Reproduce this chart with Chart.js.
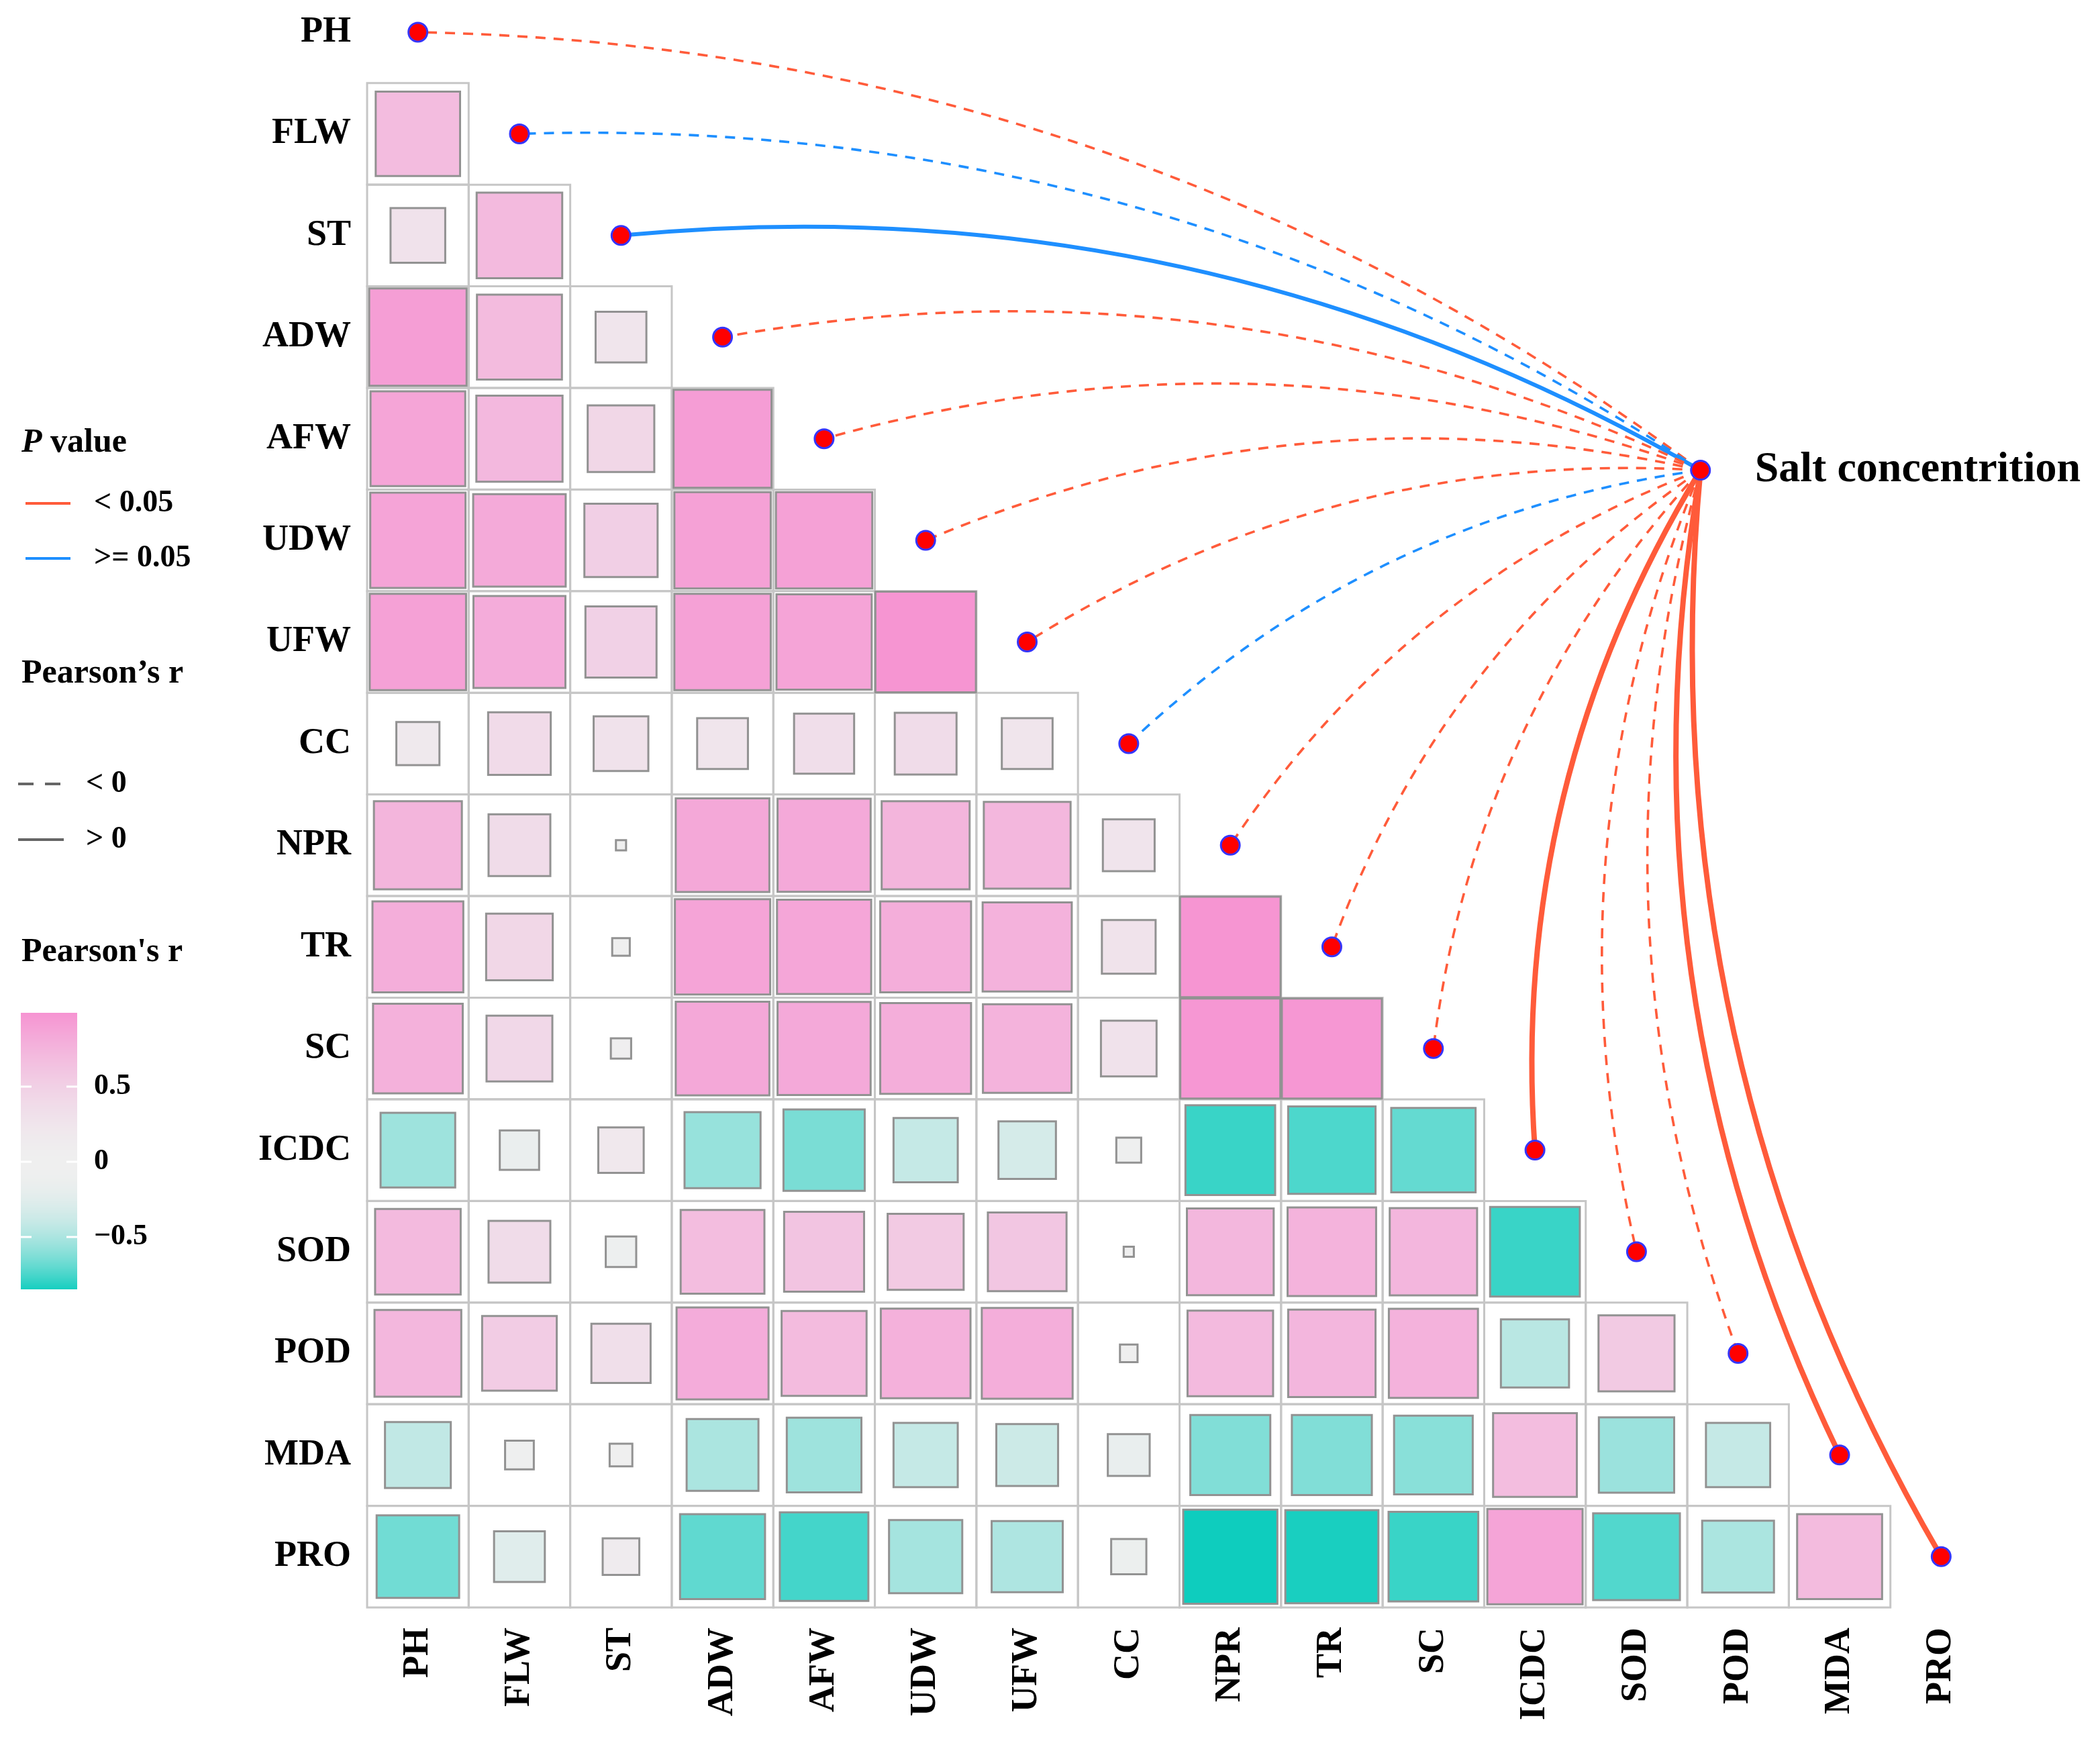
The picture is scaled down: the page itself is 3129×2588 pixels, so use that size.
<!DOCTYPE html>
<html>
<head>
<meta charset="utf-8">
<title>Correlation heatmap with links to salt concentration</title>
<script src="https://cdn.jsdelivr.net/npm/chart.js@4.4.1/dist/chart.umd.min.js"></script>
<style>
  html, body { margin: 0; padding: 0; background: #fff; }
  #wrap { width: 3129px; height: 2588px; position: relative; }
</style>
</head>
<body>
<div id="wrap"><canvas id="corr"></canvas></div>
<script>
const variables = ['PH', 'FLW', 'ST', 'ADW', 'AFW', 'UDW', 'UFW', 'CC', 'NPR', 'TR', 'SC', 'ICDC', 'SOD', 'POD', 'MDA', 'PRO'];

// Pearson's r, lower triangle: one array per row, columns from PH up to the previous variable
const rFLW = [0.69];
const rST = [0.29, 0.71];
const rADW = [0.92, 0.70, 0.25];
const rAFW = [0.87, 0.72, 0.43, 0.93];
const rUDW = [0.88, 0.83, 0.52, 0.90, 0.90];
const rUFW = [0.90, 0.82, 0.49, 0.90, 0.88, 0.98];
const rCC = [0.18, 0.38, 0.29, 0.25, 0.35, 0.37, 0.25];
const rNPR = [0.75, 0.37, 0.01, 0.85, 0.84, 0.75, 0.73, 0.26];
const rTR = [0.80, 0.43, 0.03, 0.88, 0.86, 0.80, 0.77, 0.28, 0.98];
const rSC = [0.78, 0.42, 0.04, 0.85, 0.84, 0.80, 0.76, 0.30, 0.97, 0.97];
const rICDC = [-0.54, -0.15, 0.20, -0.56, -0.64, -0.40, -0.32, -0.06, -0.78, -0.74, -0.69];
const rSOD = [0.71, 0.37, -0.09, 0.68, 0.62, 0.56, 0.60, 0.01, 0.73, 0.76, 0.74, -0.78];
const rPOD = [0.73, 0.54, 0.34, 0.82, 0.70, 0.78, 0.80, 0.03, 0.71, 0.74, 0.77, -0.45, 0.56];
const rMDA = [-0.42, -0.08, -0.05, -0.50, -0.54, -0.40, -0.37, -0.17, -0.62, -0.62, -0.60, 0.68, -0.55, -0.40];
const rPRO = [-0.66, -0.25, 0.13, -0.70, -0.76, -0.52, -0.49, -0.12, -0.86, -0.84, -0.78, 0.88, -0.73, -0.50, 0.70];
const corrRows = [[], rFLW, rST, rADW, rAFW, rUDW, rUFW, rCC, rNPR, rTR, rSC, rICDC, rSOD, rPOD, rMDA, rPRO];

// links from every variable to salt concentration
const linkP = [0.001, 0.21, 0.14, 0.001, 0.001, 0.003, 0.002, 0.31, 0.001, 0.001, 0.001, 0.001, 0.004, 0.01, 0.001, 0.001];
const linkR = [-0.62, -0.15, 0.35, -0.70, -0.72, -0.60, -0.62, -0.12, -0.80, -0.80, -0.75, 0.70, -0.60, -0.55, 0.80, 0.85];
const targetName = 'Salt concentrition';

// layout / style
const targetAt = { x: 12.63, y: 4.31 };
const RED = '#FF5B3A';
const BLUE = '#1E8FFF';
const SERIF = '"Liberation Serif", "Times New Roman", serif';
const MID = [239, 239, 239], POS = [246, 148, 210], NEG = [14, 205, 190];

function fillFor(r) {
  const pos = r >= 0;
  const end = pos ? POS : NEG;
  const t = Math.pow(Math.min(Math.abs(r) / (pos ? 0.99 : 0.86), 1), pos ? 1.6 : 2.2);
  const c = MID.map((m, k) => Math.round(m + (end[k] - m) * t));
  return 'rgb(' + c.join(',') + ')';
}

function widthFor(r) {
  if (r < 0.2) return 3.6;
  if (r < 0.4) return 6;
  return 8;
}

const cellPoints = [];
const squarePoints = [];
corrRows.forEach((row, i) => {
  row.forEach((r, j) => {
    cellPoints.push({ x: j, y: i });
    squarePoints.push({ x: j, y: i, r: r });
  });
});
const dotPoints = variables.map((v, i) => ({ x: i, y: i }));
dotPoints.push({ x: targetAt.x, y: targetAt.y });

function cellPx(chart) {
  const xs = chart.scales.x;
  return Math.abs(xs.getPixelForValue(1) - xs.getPixelForValue(0));
}

const linkPlugin = {
  id: 'links',
  afterDatasetDraw(chart, args) {
    if (args.index !== 1) return;
    const { x, y } = chart.scales;
    const ctx = chart.ctx;
    const nx = x.getPixelForValue(targetAt.x), ny = y.getPixelForValue(targetAt.y);
    const bend = 0.16;
    variables.forEach((v, i) => {
      const px = x.getPixelForValue(i), py = y.getPixelForValue(i);
      const dx = px - nx, dy = py - ny;
      const cx = (px + nx) / 2 - dy * bend;
      const cy = (py + ny) / 2 + dx * bend;
      ctx.save();
      ctx.strokeStyle = linkP[i] < 0.05 ? RED : BLUE;
      ctx.lineWidth = widthFor(linkR[i]);
      ctx.setLineDash(linkR[i] < 0 ? [15, 12] : []);
      ctx.beginPath();
      ctx.moveTo(nx, ny);
      ctx.quadraticCurveTo(cx, cy, px, py);
      ctx.stroke();
      ctx.restore();
    });
  }
};

const legendPlugin = {
  id: 'sideLegend',
  afterDraw(chart) {
    const ctx = chart.ctx;
    const { x, y } = chart.scales;
    ctx.save();
    ctx.fillStyle = '#000';
    ctx.textBaseline = 'middle';
    ctx.textAlign = 'left';

    // target label
    ctx.font = 'bold 64px ' + SERIF;
    ctx.fillText(targetName, x.getPixelForValue(targetAt.x) + 81, y.getPixelForValue(targetAt.y));

    // P value
    ctx.font = 'italic bold 50px ' + SERIF;
    ctx.fillText('P', 32, 660);
    const pw = ctx.measureText('P').width;
    ctx.font = 'bold 50px ' + SERIF;
    ctx.fillText(' value', 32 + pw, 660);
    ctx.lineWidth = 4;
    [[RED, '< 0.05', 750], [BLUE, '>= 0.05', 832]].forEach(([col, txt, ly]) => {
      ctx.strokeStyle = col;
      ctx.beginPath(); ctx.moveTo(38, ly); ctx.lineTo(105, ly); ctx.stroke();
      ctx.font = 'bold 46px ' + SERIF;
      ctx.fillText(txt, 140, ly);
    });

    // line type
    ctx.font = 'bold 50px ' + SERIF;
    ctx.fillText('Pearson\u2019s r', 32, 1004);
    ctx.strokeStyle = '#666';
    ctx.lineWidth = 4;
    ctx.setLineDash([23, 17]);
    ctx.beginPath(); ctx.moveTo(27, 1168); ctx.lineTo(92, 1168); ctx.stroke();
    ctx.setLineDash([]);
    ctx.beginPath(); ctx.moveTo(27, 1251); ctx.lineTo(95, 1251); ctx.stroke();
    ctx.font = 'bold 46px ' + SERIF;
    ctx.fillText('< 0', 128, 1168);
    ctx.fillText('> 0', 128, 1251);

    // colour bar
    ctx.font = 'bold 50px ' + SERIF;
    ctx.fillText("Pearson's r", 32, 1419);
    const bx = 31, bw = 84, zeroY = 1731, perUnit = 224, top = 1509, bottom = 1921;
    for (let py = top; py < bottom; py++) {
      ctx.fillStyle = fillFor((zeroY - py) / perUnit);
      ctx.fillRect(bx, py, bw, 1);
    }
    ctx.strokeStyle = '#fff';
    ctx.lineWidth = 3;
    ctx.fillStyle = '#000';
    ctx.font = 'bold 44px ' + SERIF;
    [[0.5, '0.5'], [0, '0'], [-0.5, '\u22120.5']].forEach(([v, txt]) => {
      const ty = zeroY - v * perUnit;
      ctx.beginPath();
      ctx.moveTo(bx, ty); ctx.lineTo(bx + 16, ty);
      ctx.moveTo(bx + bw - 16, ty); ctx.lineTo(bx + bw, ty);
      ctx.stroke();
      ctx.fillText(txt, 140, ty);
    });
    ctx.restore();
  }
};

const tickFont = { family: SERIF, weight: 'bold', size: 54 };

new Chart(document.getElementById('corr'), {
  type: 'scatter',
  data: {
    datasets: [
      {
        label: 'cells',
        data: cellPoints,
        order: 3,
        pointStyle: 'rect',
        pointRadius: (c) => cellPx(c.chart) / Math.SQRT2,
        backgroundColor: 'rgba(255,255,255,0)',
        borderColor: '#C6C6C6',
        borderWidth: 3
      },
      {
        label: 'squares',
        data: squarePoints,
        order: 2,
        pointStyle: 'rect',
        pointRadius: (c) => cellPx(c.chart) * Math.min(Math.sqrt(Math.abs(c.raw.r)), 1) / Math.SQRT2,
        backgroundColor: (c) => fillFor(c.raw.r),
        borderColor: '#929292',
        borderWidth: 3
      },
      {
        label: 'nodes',
        data: dotPoints,
        order: 1,
        pointStyle: 'circle',
        pointRadius: 14,
        backgroundColor: '#FF0000',
        borderColor: '#3535FF',
        borderWidth: 3
      }
    ]
  },
  options: {
    responsive: true,
    maintainAspectRatio: false,
    devicePixelRatio: 1,
    animation: false,
    events: [],
    layout: { autoPadding: false, padding: { left: 0, right: 161, top: 0, bottom: 0 } },
    elements: { point: { hoverRadius: 0 } },
    datasets: { scatter: { clip: false } },
    scales: {
      x: {
        type: 'linear',
        min: -0.5,
        max: 15.5,
        grid: { display: false, drawTicks: false },
        border: { display: false },
        afterBuildTicks: (s) => { s.ticks = variables.map((v, i) => ({ value: i })); },
        afterFit: (s) => {
          s.height = 193;
          s.paddingLeft = 0; s.paddingRight = 0; s.paddingTop = 0; s.paddingBottom = 0;
        },
        ticks: {
          autoSkip: false,
          minRotation: 90,
          maxRotation: 90,
          padding: 30,
          color: '#000',
          font: tickFont,
          callback: (v) => variables[v] ?? ''
        }
      },
      y: {
        type: 'linear',
        reverse: true,
        min: -0.317,
        max: 15.5,
        grid: { display: false, drawTicks: false },
        border: { display: false },
        afterBuildTicks: (s) => { s.ticks = variables.map((v, i) => ({ value: i })); },
        afterFit: (s) => {
          s.width = 547;
          s.paddingLeft = 0; s.paddingRight = 0; s.paddingTop = 0; s.paddingBottom = 0;
        },
        ticks: {
          autoSkip: false,
          padding: 24,
          color: '#000',
          font: tickFont,
          callback: (v) => variables[v] ?? ''
        }
      }
    },
    plugins: {
      legend: { display: false },
      tooltip: { enabled: false }
    }
  },
  plugins: [linkPlugin, legendPlugin]
});
</script>
</body>
</html>
